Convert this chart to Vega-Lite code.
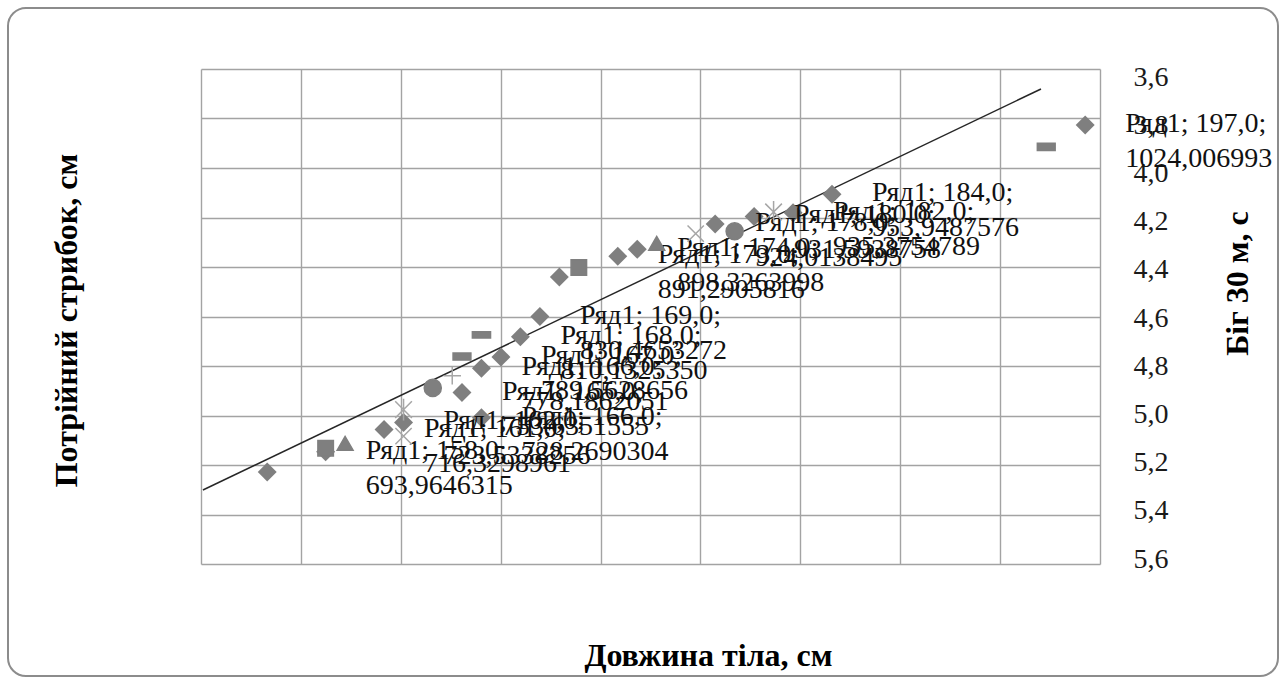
{
  "$schema": "https://vega.github.io/schema/vega-lite/v6.json",
  "width": 1270,
  "height": 668,
  "autosize": {"type": "none"},
  "padding": {"left": 8, "top": 8, "right": 8, "bottom": 4},
  "background": "white",
  "config": {
    "view": {"stroke": "#8c8c8c", "strokeWidth": 2, "cornerRadius": 18},
    "axis": {
      "gridColor": "#a3a3a3",
      "gridWidth": 1.4,
      "gridOpacity": 1,
      "titleFont": "Liberation Serif",
      "titleFontWeight": "bold",
      "titleFontSize": 32,
      "titleColor": "#000000",
      "labelFont": "Liberation Serif",
      "labelFontSize": 28,
      "labelColor": "#1a1a1a"
    }
  },
  "datasets": {
    "trend": [
      {"len": 151.7, "jump": 655.25},
      {"len": 194.73, "jump": 1060.3}
    ],
    "jumpPts": [
      {"len": 155, "jump": 673.4, "label": ""},
      {"len": 158, "jump": 693.9646315, "label": "Ряд1; 158,0;\n693,9646315"},
      {"len": 161, "jump": 716.3298961, "label": "Ряд1; 161,0;\n716,3298961"},
      {"len": 162, "jump": 723.5338256, "label": "Ряд1; 162,0;\n723,5338256"},
      {"len": 165, "jump": 753.6351555, "label": "Ряд1; 165,0;\n753,6351555"},
      {"len": 166, "jump": 728.2690304, "label": "Ряд1; 166,0;\n728,2690304"},
      {"len": 166, "jump": 778.1862051, "label": "Ряд1; 166,0;\n778,1862051"},
      {"len": 167, "jump": 789.5628656, "label": "Ряд1; 167,0;\n789,5628656"},
      {"len": 168, "jump": 810.132535, "label": "Ряд1; 168,0;\n810,1325350"},
      {"len": 169, "jump": 830.4653272, "label": "Ряд1; 169,0;\n830,4653272"},
      {"len": 170, "jump": 870.3763512, "label": ""},
      {"len": 173, "jump": 891.2905816, "label": "Ряд1; 173,0;\n891,2905816"},
      {"len": 174, "jump": 898.3263998, "label": "Ряд1; 174,0;\n898,3263998"},
      {"len": 178, "jump": 924.0138495, "label": "Ряд1; 178,0;\n924,0138495"},
      {"len": 180, "jump": 931.5938758, "label": "Ряд1; 180,0;\n931,5938758"},
      {"len": 182, "jump": 935.3754789, "label": "Ряд1; 182,0;\n935,3754789"},
      {"len": 184, "jump": 953.9487576, "label": "Ряд1; 184,0;\n953,9487576"},
      {"len": 197, "jump": 1024.006993, "label": "Ряд1; 197,0;\n1024,006993"}
    ],
    "runPts": [
      {"series": "Ряд2", "len": 158, "run": 5.14},
      {"series": "Ряд2", "len": 171, "run": 4.39},
      {"series": "Ряд3", "len": 159, "run": 5.12},
      {"series": "Ряд3", "len": 175, "run": 4.29},
      {"series": "Ряд4", "len": 162, "run": 5.09},
      {"series": "Ряд4", "len": 177, "run": 4.25},
      {"series": "Ряд5", "len": 162, "run": 4.98},
      {"series": "Ряд5", "len": 181, "run": 4.16},
      {"series": "Ряд6", "len": 163.5, "run": 4.89},
      {"series": "Ряд6", "len": 179, "run": 4.24},
      {"series": "Ряд7", "len": 164.5, "run": 4.84},
      {"series": "Ряд8", "len": 165, "run": 4.76},
      {"series": "Ряд8", "len": 195, "run": 3.89},
      {"series": "Ряд9", "len": 166, "run": 4.67}
    ]
  },
  "layer": [
    {
      "layer": [
        {
          "data": {"name": "trend"},
          "mark": {"type": "line", "color": "#262626", "strokeWidth": 1.5},
          "encoding": {
            "x": {
              "field": "len", "type": "quantitative",
              "scale": {"domain": [151.6, 197.76], "range": [193, 1092], "nice": false, "zero": false},
              "axis": {
                "orient": "top",
                "values": [151.6, 156.729, 161.858, 166.987, 172.116, 177.244, 182.373, 187.502, 192.631, 197.76],
                "labels": false, "ticks": false, "domain": false, "grid": true,
                "title": "Довжина тіла, см",
                "titleX": 700, "titleY": 647,
                "titleAlign": "center", "titleBaseline": "middle"
              }
            },
            "y": {
              "field": "jump", "type": "quantitative",
              "scale": {"domain": [580.5, 1080.5], "range": [556, 61], "nice": false, "zero": false},
              "axis": {
                "orient": "left",
                "values": [580.5, 630.5, 680.5, 730.5, 780.5, 830.5, 880.5, 930.5, 980.5, 1030.5, 1080.5],
                "labels": false, "ticks": false, "domain": false, "grid": true,
                "title": "Потрійний стрибок, см",
                "titleX": 58, "titleY": 312, "titleAngle": 270,
                "titleAlign": "center", "titleBaseline": "middle"
              }
            }
          }
        },
        {
          "data": {"name": "jumpPts"},
          "mark": {"type": "point", "shape": "diamond", "filled": true, "size": 360, "color": "#7f7f7f", "opacity": 1},
          "encoding": {
            "x": {"field": "len", "type": "quantitative"},
            "y": {"field": "jump", "type": "quantitative"}
          }
        },
        {
          "data": {"name": "jumpPts"},
          "mark": {
            "type": "text", "align": "left", "baseline": "top", "dx": 40, "dy": -15,
            "font": "Liberation Serif", "fontSize": 28, "lineHeight": 35, "lineBreak": "\n", "color": "#111111"
          },
          "encoding": {
            "x": {"field": "len", "type": "quantitative"},
            "y": {"field": "jump", "type": "quantitative"},
            "text": {"field": "label"}
          }
        }
      ]
    },
    {
      "data": {"name": "runPts"},
      "mark": {"type": "point", "filled": true, "strokeWidth": 1.5, "opacity": 1},
      "encoding": {
        "x": {
          "field": "len", "type": "quantitative",
          "scale": {"domain": [151.6, 197.76], "range": [193, 1092], "nice": false, "zero": false},
          "axis": {
            "orient": "top",
            "values": [151.6, 156.729, 161.858, 166.987, 172.116, 177.244, 182.373, 187.502, 192.631, 197.76],
            "labels": false, "ticks": false, "domain": false, "grid": true,
            "title": "Довжина тіла, см",
            "titleX": 700, "titleY": 647,
            "titleAlign": "center", "titleBaseline": "middle"
          }
        },
        "y": {
          "field": "run", "type": "quantitative",
          "scale": {"domain": [3.6, 5.6], "range": [69, 551], "nice": false, "zero": false},
          "axis": {
            "orient": "right", "offset": -145,
            "values": [3.6, 3.8, 4.0, 4.2, 4.4, 4.6, 4.8, 5.0, 5.2, 5.4, 5.6],
            "labelExpr": "replace(format(datum.value, '.1f'), '.', ',')",
            "labelPadding": 0, "labelAlign": "left",
            "ticks": false, "domain": false, "grid": false,
            "title": "Біг 30 м, с",
            "titleX": 104, "titleY": 275, "titleAngle": 270,
            "titleAlign": "center", "titleBaseline": "middle"
          }
        },
        "shape": {
          "field": "series", "type": "nominal", "legend": null,
          "scale": {
            "domain": ["Ряд2", "Ряд3", "Ряд4", "Ряд5", "Ряд6", "Ряд7", "Ряд8", "Ряд9"],
            "range": ["square", "triangle-up", "M-1,-1L1,1M-1,1L1,-1", "M-1,-1L1,1M-1,1L1,-1M0,-1.3L0,1.3", "circle", "M-1,0L1,0M0,-1L0,1", "M-1,-0.4L1,-0.4L1,0.4L-1,0.4Z", "M-1,-0.35L1,-0.35L1,0.35L-1,0.35Z"]
          }
        },
        "size": {
          "field": "series", "type": "nominal", "legend": null,
          "scale": {
            "domain": ["Ряд2", "Ряд3", "Ряд4", "Ряд5", "Ряд6", "Ряд7", "Ряд8", "Ряд9"],
            "range": [240, 330, 220, 240, 330, 260, 70, 330]
          }
        },
        "fill": {
          "field": "series", "type": "nominal", "legend": null,
          "scale": {
            "domain": ["Ряд2", "Ряд3", "Ряд4", "Ряд5", "Ряд6", "Ряд7", "Ряд8", "Ряд9"],
            "range": ["#7f7f7f", "#7f7f7f", "#a6a6a6", "#a6a6a6", "#7f7f7f", "#a6a6a6", "#7f7f7f", "#7f7f7f"]
          }
        },
        "stroke": {
          "field": "series", "type": "nominal", "legend": null,
          "scale": {
            "domain": ["Ряд2", "Ряд3", "Ряд4", "Ряд5", "Ряд6", "Ряд7", "Ряд8", "Ряд9"],
            "range": ["#7f7f7f", "#7f7f7f", "#a6a6a6", "#a6a6a6", "#7f7f7f", "#a6a6a6", "#7f7f7f", "#7f7f7f"]
          }
        }
      }
    }
  ],
  "resolve": {"scale": {"y": "independent"}}
}
